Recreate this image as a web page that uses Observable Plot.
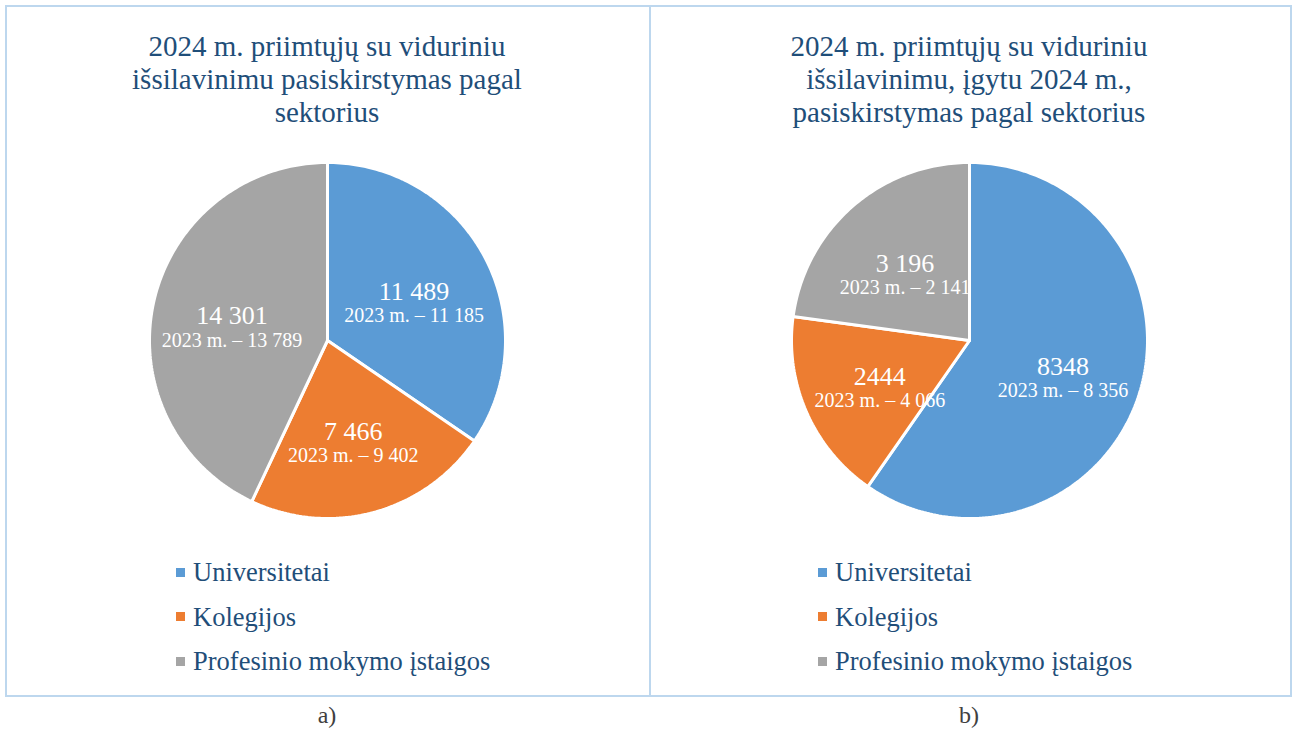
<!DOCTYPE html>
<html>
<head>
<meta charset="utf-8">
<script src="https://cdn.jsdelivr.net/npm/d3@7"></script>
<script src="https://cdn.jsdelivr.net/npm/@observablehq/plot@0.6"></script>
<style>
  html, body { margin: 0; padding: 0; background: #fff; }
  #root { position: relative; width: 1297px; height: 731px; overflow: hidden; font-family: "Liberation Serif", "Times New Roman", serif; }
  .panel { position: absolute; top: 5px; height: 688px; border: 2px solid #bdd7ee; box-sizing: content-box; }
  .title { position: absolute; top: 30px; text-align: center; font-size: 29px; line-height: 33px; color: #1f4e79; }
  .chart { position: absolute; top: 160px; }
  .legend { position: absolute; top: 550px; color: #1f4e79; font-size: 26.5px; line-height: 44.5px; }
  .legend .row { display: flex; align-items: center; white-space: nowrap; }
  .legend .sw { width: 9px; height: 9px; margin-right: 8px; }
  .cap { position: absolute; top: 702px; width: 100px; text-align: center; font-size: 24px; color: #404040; }
</style>
</head>
<body>
<div id="root"></div>
<script>
// ---- data ----
const sectors = ["Universitetai", "Kolegijos", "Profesinio mokymo įstaigos"];
const sectorColors = ["#5b9bd5", "#ed7d31", "#a5a5a5"];

const titleA = ["2024 m. priimtųjų su viduriniu", "išsilavinimu pasiskirstymas pagal", "sektorius"];
const valuesA = [11489, 7466, 14301];
const labelsA = ["11 489", "7 466", "14 301"];
const prevA = ["11 185", "9 402", "13 789"];

const titleB = ["2024 m. priimtųjų su viduriniu", "išsilavinimu, įgytu 2024 m.,", "pasiskirstymas pagal sektorius"];
const valuesB = [8348, 2444, 3196];
const labelsB = ["8348", "2444", "3 196"];
const prevB = ["8 356", "4 066", "2 141"];

const captions = ["a)", "b)"];

// ---- layout ----
const root = document.getElementById("root");
const panels = [
  {left: 5, width: 642, cx: 327, title: titleA, values: valuesA, labels: labelsA, prev: prevA, cap: captions[0]},
  {left: 649, width: 639, cx: 969, title: titleB, values: valuesB, labels: labelsB, prev: prevB, cap: captions[1]}
];

const R = 178;
const W = 640, H = 360;

function pieChart(values, labels, prev) {
  const data = sectors.map((s, i) => ({sector: s, value: values[i], label: labels[i], prev: "2023 m. – " + prev[i]}));
  const arcs = d3.pie().value(d => d.value).sort(null)(data);
  const poly = [];
  const lab = [];
  for (const a of arcs) {
    const s = a.data.sector;
    poly.push({sector: s, x: 0, y: 0});
    const n = Math.max(2, Math.ceil((a.endAngle - a.startAngle) / (Math.PI / 180)));
    for (let k = 0; k <= n; k++) {
      const t = a.startAngle + (a.endAngle - a.startAngle) * k / n;
      poly.push({sector: s, x: R * Math.sin(t), y: R * Math.cos(t)});
    }
    poly.push({sector: s, x: 0, y: 0});
    const m = (a.startAngle + a.endAngle) / 2;
    lab.push({...a.data, x: 0.55 * R * Math.sin(m), y: 0.55 * R * Math.cos(m)});
  }
  return Plot.plot({
    width: W, height: H, margin: 0,
    x: {domain: [-W / 2, W / 2], axis: null},
    y: {domain: [-H / 2, H / 2], axis: null},
    color: {domain: sectors, range: sectorColors},
    style: {background: "transparent", overflow: "visible"},
    marks: [
      Plot.line(poly, {x: "x", y: "y", z: "sector", fill: "sector", stroke: "white", strokeWidth: 3, strokeLinejoin: "miter"}),
      Plot.text(lab, {x: "x", y: "y", text: "label", dy: -3, fill: "white", fontSize: 26, fontFamily: "Liberation Serif"}),
      Plot.text(lab, {x: "x", y: "y", text: "prev", dy: 21, fill: "white", fontSize: 20, fontFamily: "Liberation Serif"})
    ]
  });
}

for (const p of panels) {
  const panel = document.createElement("div");
  panel.className = "panel";
  panel.style.left = p.left + "px";
  panel.style.width = p.width + "px";
  root.appendChild(panel);

  const t = document.createElement("div");
  t.className = "title";
  t.style.left = (p.cx - 320) + "px";
  t.style.width = "640px";
  t.innerHTML = p.title.join("<br>");
  root.appendChild(t);

  const c = document.createElement("div");
  c.className = "chart";
  c.style.left = (p.cx - W / 2) + "px";
  c.appendChild(pieChart(p.values, p.labels, p.prev));
  root.appendChild(c);

  const lg = document.createElement("div");
  lg.className = "legend";
  lg.style.left = (p.cx - 151) + "px";
  sectors.forEach((s, i) => {
    const row = document.createElement("div");
    row.className = "row";
    const sw = document.createElement("span");
    sw.className = "sw";
    sw.style.background = sectorColors[i];
    const tx = document.createElement("span");
    tx.textContent = s;
    row.appendChild(sw);
    row.appendChild(tx);
    lg.appendChild(row);
  });
  root.appendChild(lg);

  const cap = document.createElement("div");
  cap.className = "cap";
  cap.style.left = (p.cx - 50) + "px";
  cap.textContent = p.cap;
  root.appendChild(cap);
}
</script>
</body>
</html>
